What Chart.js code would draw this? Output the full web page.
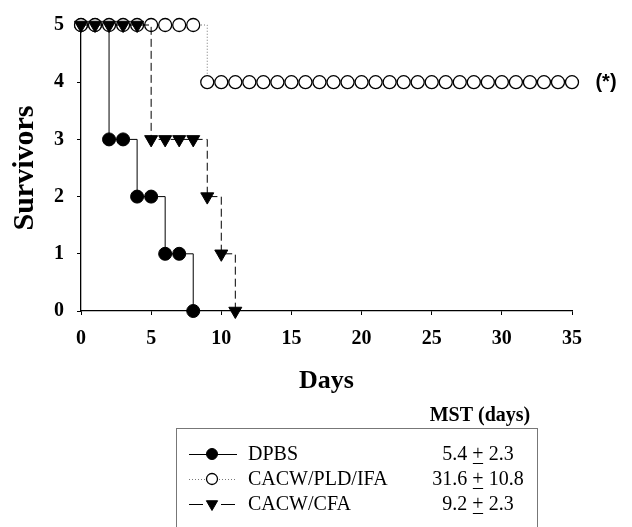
<!DOCTYPE html>
<html>
<head>
<meta charset="utf-8">
<script src="https://cdn.jsdelivr.net/npm/chart.js@4/dist/chart.umd.min.js"></script>
<style>
  html, body { margin: 0; padding: 0; background: #ffffff; }
  #wrap { width: 632px; height: 527px; position: relative; }
</style>
</head>
<body>
<div id="wrap"><canvas id="c" width="632" height="527"></canvas></div>
<script>
// ---- data ----
const dpbsDays = [0, 1, 2, 3, 4, 5, 6, 7, 8];
const dpbsSurvivors = [5, 5, 3, 3, 2, 2, 1, 1, 0];

const pldDays = [0, 1, 2, 3, 4, 5, 6, 7, 8, 9, 10, 11, 12, 13, 14, 15, 16, 17,
                 18, 19, 20, 21, 22, 23, 24, 25, 26, 27, 28, 29, 30, 31, 32, 33, 34, 35];
const pldSurvivors = [5, 5, 5, 5, 5, 5, 5, 5, 5, 4, 4, 4, 4, 4, 4, 4, 4, 4,
                      4, 4, 4, 4, 4, 4, 4, 4, 4, 4, 4, 4, 4, 4, 4, 4, 4, 4];

const cfaDays = [0, 1, 2, 3, 4, 5, 6, 7, 8, 9, 10, 11];
const cfaSurvivors = [5, 5, 5, 5, 5, 3, 3, 3, 3, 2, 1, 0];

const seriesNames = ['DPBS', 'CACW/PLD/IFA', 'CACW/CFA'];
const mstValues = [['5.4', '2.3'], ['31.6', '10.8'], ['9.2', '2.3']];
const mstHeader = 'MST (days)';
const significance = '(*)';
const xTitle = 'Days';
const yTitle = 'Survivors';

const toXY = (xs, ys) => xs.map((x, i) => ({ x: x, y: ys[i] }));

const SERIF = '"Liberation Serif", "Times New Roman", Times, serif';
const SANS = '"Liberation Sans", Arial, Helvetica, sans-serif';

const styles = [
  { borderColor: '#000', borderWidth: 1, borderDash: [], pointStyle: 'circle', radius: 6.5,
    fill: '#000', pBorder: '#000', pBorderWidth: 1, rotation: 0, order: 3, legendRadius: 5.5, legendLine: 'solid' },
  { borderColor: '#777', borderWidth: 1, borderDash: [1, 2], pointStyle: 'circle', radius: 6.5,
    fill: '#fff', pBorder: '#000', pBorderWidth: 1.3, rotation: 0, order: 2, legendRadius: 5.5, legendLine: 'dotted' },
  { borderColor: '#000', borderWidth: 1, borderDash: [8, 4], pointStyle: 'triangle', radius: 7.5,
    fill: '#000', pBorder: '#000', pBorderWidth: 1, rotation: 180, order: 1, legendRadius: 6.5, legendLine: 'dashed' }
];

const seriesData = [toXY(dpbsDays, dpbsSurvivors), toXY(pldDays, pldSurvivors), toXY(cfaDays, cfaSurvivors)];

const datasets = seriesNames.map((name, i) => {
  const s = styles[i];
  return {
    label: name,
    data: seriesData[i],
    stepped: 'before',
    borderColor: s.borderColor,
    borderWidth: s.borderWidth,
    borderDash: s.borderDash,
    pointStyle: s.pointStyle,
    pointRadius: s.radius,
    pointHoverRadius: s.radius,
    pointBackgroundColor: s.fill,
    pointBorderColor: s.pBorder,
    pointBorderWidth: s.pBorderWidth,
    pointRotation: s.rotation,
    order: s.order,
    clip: false,
    fill: false
  };
});

function drawMarker(ctx, s, x, y, r) {
  const opts = { pointStyle: s.pointStyle, rotation: s.rotation, radius: r, borderWidth: s.pBorderWidth };
  ctx.save();
  ctx.fillStyle = s.fill;
  ctx.strokeStyle = s.pBorder;
  ctx.lineWidth = s.pBorderWidth;
  ctx.setLineDash([]);
  if (Chart.helpers && Chart.helpers.drawPoint) {
    Chart.helpers.drawPoint(ctx, opts, x, y);
  } else {
    ctx.beginPath();
    ctx.arc(x, y, r, 0, Math.PI * 2);
    ctx.fill();
    ctx.stroke();
  }
  ctx.restore();
}

const annotationPlugin = {
  id: 'annotations',
  afterDraw(chart) {
    const ctx = chart.ctx;
    const xs = chart.scales.x, ys = chart.scales.y;
    ctx.save();
    // (*) significance marker
    ctx.fillStyle = '#000';
    ctx.font = 'bold 20px ' + SANS;
    ctx.textAlign = 'center';
    ctx.textBaseline = 'middle';
    ctx.fillText(significance, xs.right + 34, ys.getPixelForValue(4));

    // MST header
    ctx.font = 'bold 20px ' + SERIF;
    ctx.textAlign = 'center';
    ctx.fillText(mstHeader, 480, 416);

    // legend box
    ctx.strokeStyle = '#777';
    ctx.lineWidth = 1;
    ctx.strokeRect(176.5, 428.5, 361, 120);

    const rowY = [454, 479, 504];
    seriesNames.forEach((name, i) => {
      const s = styles[i];
      const y = rowY[i];
      // line sample
      ctx.save();
      ctx.strokeStyle = s.borderColor;
      ctx.lineWidth = 1;
      ctx.beginPath();
      if (s.legendLine === 'dashed') {
        ctx.setLineDash([]);
        ctx.moveTo(189, y + 0.5); ctx.lineTo(203, y + 0.5);
        ctx.moveTo(221, y + 0.5); ctx.lineTo(235, y + 0.5);
      } else {
        ctx.setLineDash(s.borderDash);
        ctx.moveTo(189, y + 0.5);
        ctx.lineTo(237, y + 0.5);
      }
      ctx.stroke();
      ctx.restore();
      drawMarker(ctx, s, 212, y, s.legendRadius);
      // label
      ctx.fillStyle = '#000';
      ctx.font = '20px ' + SERIF;
      ctx.textAlign = 'left';
      ctx.textBaseline = 'middle';
      ctx.fillText(name, 248, y + 1);
      // MST value with underlined plus
      const left = mstValues[i][0], right = mstValues[i][1];
      const wl = ctx.measureText(left + ' ').width;
      const wp = ctx.measureText('+').width;
      const wr = ctx.measureText(' ' + right).width;
      const total = wl + wp + wr;
      const x0 = 478 - total / 2;
      ctx.fillText(left + ' ', x0, y + 1);
      ctx.fillText('+', x0 + wl, y + 1);
      ctx.fillText(' ' + right, x0 + wl + wp, y + 1);
      ctx.beginPath();
      ctx.strokeStyle = '#000';
      ctx.lineWidth = 1;
      ctx.moveTo(x0 + wl + 0.5, y + 9.5);
      ctx.lineTo(x0 + wl + wp - 0.5, y + 9.5);
      ctx.stroke();
    });
    ctx.restore();
  }
};

new Chart(document.getElementById('c'), {
  type: 'line',
  data: { datasets: datasets },
  plugins: [annotationPlugin],
  options: {
    responsive: false,
    animation: false,
    events: [],
    layout: { padding: { left: 0, top: 15, right: 60, bottom: 130 } },
    plugins: { legend: { display: false }, tooltip: { enabled: false } },
    scales: {
      x: {
        type: 'linear',
        min: 0, max: 35,
        afterFit: (scale) => { scale.height = 86; },
        border: { display: true, color: '#000', width: 1.3 },
        grid: { display: true, drawOnChartArea: false, drawTicks: true, tickLength: 4, color: '#000', lineWidth: 1 },
        ticks: { stepSize: 5, padding: 12, color: '#000', font: { family: SERIF, size: 20, weight: 'bold' }, maxRotation: 0 },
        title: { display: true, text: xTitle, color: '#000', padding: { top: 0, bottom: 0 },
                 font: { family: SERIF, size: 26, weight: 'bold' } }
      },
      y: {
        type: 'linear',
        min: 0, max: 5,
        afterFit: (scale) => { scale.width = 81; },
        border: { display: true, color: '#000', width: 1.3 },
        grid: { display: true, drawOnChartArea: false, drawTicks: true, tickLength: 4, color: '#000', lineWidth: 1 },
        ticks: { stepSize: 1, padding: 13, color: '#000', font: { family: SERIF, size: 20, weight: 'bold' } },
        title: { display: true, text: yTitle, color: '#000', padding: { top: 7, bottom: 0 },
                 font: { family: SERIF, size: 30, weight: 'bold' } }
      }
    }
  }
});
</script>
</body>
</html>
